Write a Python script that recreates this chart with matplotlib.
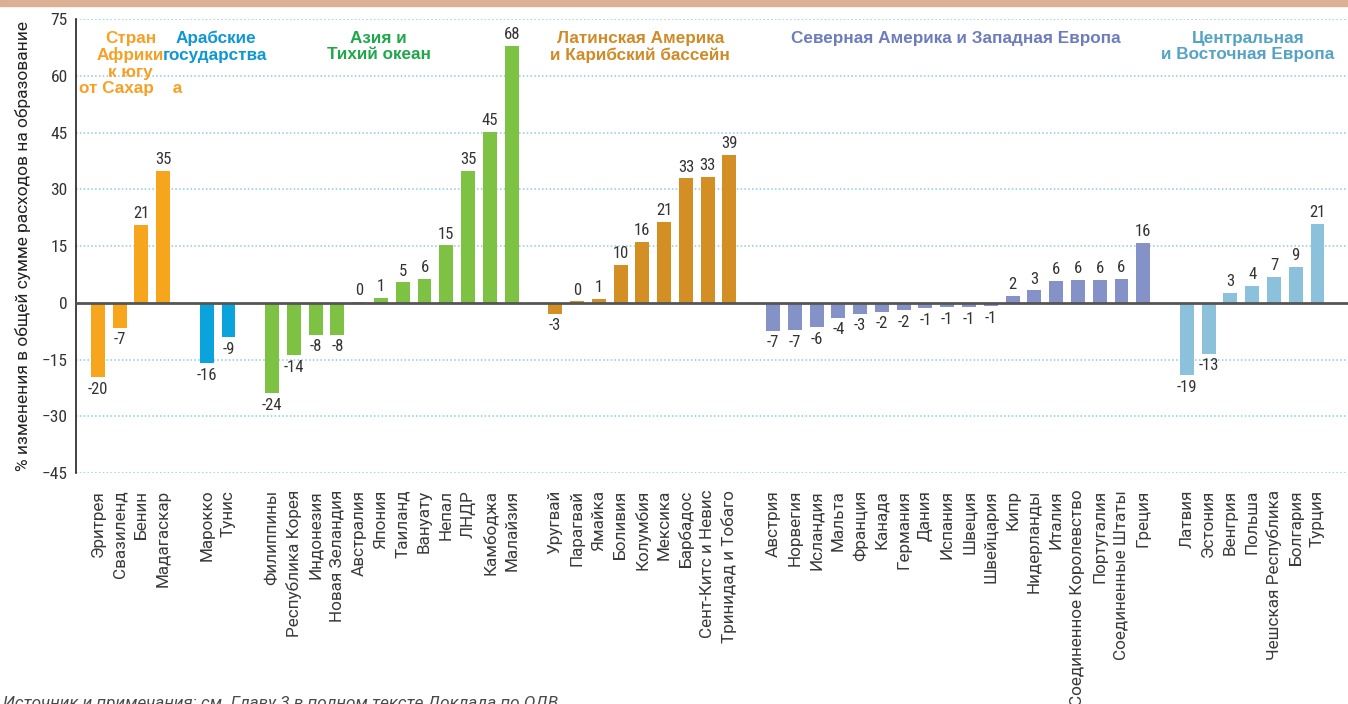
import numpy as np
import matplotlib
matplotlib.use("Agg")
import matplotlib.pyplot as plt

# change in share of education spending, by region
africa = ["Эритрея", "Свазиленд", "Бенин", "Мадагаскар"]
africa_val = [-19.7, -6.6, 20.6, 34.8]
arab = ["Марокко", "Тунис"]
arab_val = [-16.0, -9.1]
asia = ["Филиппины", "Республика Корея", "Индонезия", "Новая Зеландия", "Австралия",
        "Япония", "Таиланд", "Вануату", "Непал", "ЛНДР", "Камбоджа", "Малайзия"]
asia_val = [-23.9, -13.9, -8.4, -8.4, 0.2, 1.2, 5.4, 6.4, 15.2, 34.8, 45.1, 67.8]
latam = ["Уругвай", "Парагвай", "Ямайка", "Боливия", "Колумбия", "Мексика",
         "Барбадос", "Сент-Китс и Невис", "Тринидад и Тобаго"]
latam_val = [-2.9, 0.4, 1.0, 10.0, 16.0, 21.3, 32.9, 33.2, 39.0]
west = ["Австрия", "Норвегия", "Исландия", "Мальта", "Франция", "Канада", "Германия",
        "Дания", "Испания", "Швеция", "Швейцария", "Кипр", "Нидерланды", "Италия",
        "Соединенное Королевство", "Португалия", "Соединенные Штаты", "Греция"]
west_val = [-7.4, -7.2, -6.4, -4.0, -2.9, -2.4, -1.9, -1.4, -1.1, -1.1, -0.9,
            1.8, 3.3, 5.7, 6.0, 6.0, 6.3, 15.8]
east = ["Латвия", "Эстония", "Венгрия", "Польша", "Чешская Республика", "Болгария", "Турция"]
east_val = [-19.1, -13.4, 2.6, 4.4, 6.8, 9.4, 20.8]

titles = ["Стран\nАфрики\nк югу\nот Сахар    а", "Арабские\nгосударства",
          "Азия и\nТихий океан", "Латинская Америка\nи Карибский бассейн",
          "Северная Америка и Западная Европа", "Центральная\nи Восточная Европа"]
title_x = [1.5, 5.4, 12.9, 24.9, 39.4, 52.8]

groups = [
    (africa, africa_val, "#f8a51e", "#f7a023"),
    (arab, arab_val, "#0ba3dc", "#0f97d4"),
    (asia, asia_val, "#7dc242", "#1fa84a"),
    (latam, latam_val, "#d38f24", "#d08a26"),
    (west, west_val, "#8492c7", "#6d7cbd"),
    (east, east_val, "#8bc1da", "#55a3c4"),
]

num_font = ["Roboto Condensed", "Liberation Sans Narrow", "Roboto", "DejaVu Sans"]
lab_font = ["Roboto", "DejaVu Sans"]
head_font = ["Liberation Sans", "DejaVu Sans"]

fig = plt.figure(figsize=(13.48, 7.04), dpi=100)
ax = fig.add_axes([0.0564, 0.328, 0.9436, 0.645])

# thin band across the top edge
fig.patches.append(plt.Rectangle((0, 0.992), 1, 0.008, transform=fig.transFigure,
                                 color="#dbb193", zorder=5))

ticks_x, ticks_lab = [], []
pos = 0
for (names, vals, col, tcol), title, tx in zip(groups, titles, title_x):
    xs = np.arange(pos, pos + len(names))
    ax.bar(xs, vals, width=0.64, color=col, zorder=3)
    for x, v in zip(xs, vals):
        if v >= 0:
            ax.text(x, v + 1.0, f"{v:.0f}", ha="center", va="bottom", fontsize=12,
                    color="#333333", family=num_font)
        else:
            ax.text(x, v - 1.2, f"{v:.0f}", ha="center", va="top", fontsize=12,
                    color="#333333", family=num_font)
    ax.text(tx, 71.9, title, ha="center", va="top", fontsize=12.3, fontweight="bold",
            color=tcol, family=head_font, linespacing=1.12, zorder=4)
    ticks_x.extend(xs)
    ticks_lab.extend(names)
    pos += len(names) + 1

ax.set_xlim(-1, 57.4)
ax.set_ylim(-45, 75)
ax.set_yticks(np.arange(-45, 76, 15))
ax.set_xticks(ticks_x)
ax.set_xticklabels(ticks_lab, rotation=90, ha="center", va="top", fontsize=12.3,
                   color="#3a3a3a", family=lab_font)
for lab in ax.get_yticklabels():
    lab.set_family(num_font)
    lab.set_fontsize(12.5)
    lab.set_color("#333333")
ax.tick_params(axis="x", length=0, pad=12)
ax.tick_params(axis="y", length=0, pad=6)

for y in np.arange(-45, 76, 15):
    if y != 0:
        ax.axhline(y, color="#8ec9e0", linestyle=(0, (1, 1.5)), linewidth=1.1, zorder=1)
ax.axhline(0, color="#555555", linewidth=2, zorder=4)

for s in ["top", "right", "bottom"]:
    ax.spines[s].set_visible(False)
ax.spines["left"].set_color("#222222")
ax.spines["left"].set_linewidth(1.2)

ax.set_ylabel("% изменения в общей сумме расходов на образование", fontsize=12.5,
              color="#222222", family=lab_font, labelpad=8)

fig.text(0.002, 0.011, "Источник и примечания: см. Главу 3 в полном тексте Доклада по ОДВ.",
         ha="left", va="top", fontsize=12.3, style="italic", color="#4a4a4a",
         family=lab_font)

fig.savefig("out.png", dpi=100)
